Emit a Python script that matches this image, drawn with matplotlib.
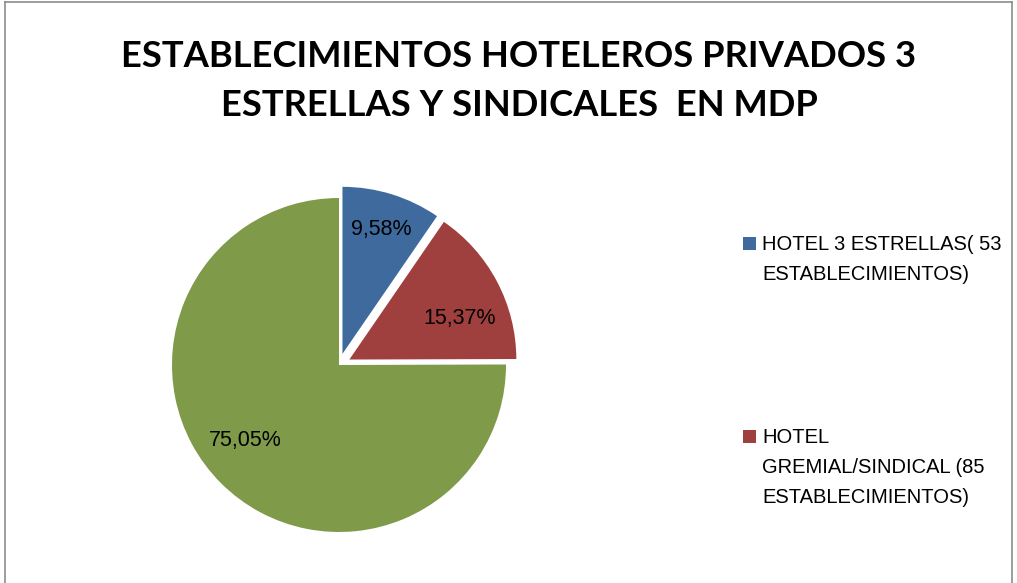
import matplotlib
matplotlib.use("Agg")
import matplotlib.pyplot as plt
from matplotlib.patches import Rectangle
from matplotlib.lines import Line2D

categories = ["HOTEL 3 ESTRELLAS( 53\nESTABLECIMIENTOS)",
              "HOTEL\nGREMIAL/SINDICAL (85\nESTABLECIMIENTOS)",
              "OTROS"]
values = [9.58, 15.37, 75.05]
pct_labels = ["9,58%", "15,37%", "75,05%"]
colors = ["#3F6A9D", "#A0403E", "#7F9B4A"]
explode = [0.07, 0.07, 0.0]
title = "ESTABLECIMIENTOS HOTELEROS PRIVADOS 3\nESTRELLAS Y SINDICALES  EN MDP"

FONT = ["Liberation Sans", "DejaVu Sans"]
TFONT = ["Lato", "Liberation Sans", "DejaVu Sans"]
W, H = 1017, 583
fig = plt.figure(figsize=(W / 100, H / 100), dpi=100)

R = 167.0
cx, cy = 339.0, H - 365.0
half = 1.25 * R
ax = fig.add_axes([(cx - half) / W, (cy - half) / H, 2 * half / W, 2 * half / H])
wedges, _ = ax.pie(values, colors=colors, explode=explode, startangle=90,
                   counterclock=False, radius=1.0, wedgeprops=dict(linewidth=0))
ax.set_xlim(-1.25, 1.25)
ax.set_ylim(-1.25, 1.25)
ax.set_aspect("equal")
ax.axis("off")

label_pos = [(0.25, 0.81), (0.72, 0.28), (-0.56, -0.45)]
for lab, (x, y) in zip(pct_labels, label_pos):
    ax.text(x, y, lab, ha="center", va="center", fontsize=15.5, family=FONT, color="black")

fig.text(519 / W, 1 - 81 / H, title, ha="center", va="center", fontsize=26.2,
         fontweight="bold", family=TFONT, linespacing=1.6)

# legend (only the visible entries)
leg_items = [(0, 237), (1, 430)]
for idx, ytop in leg_items:
    fig.add_artist(Rectangle((743 / W, 1 - (ytop + 13) / H), 13 / W, 13 / H,
                             transform=fig.transFigure, facecolor=colors[idx], edgecolor="none"))
    fig.text(762 / W, 1 - (ytop - 2) / H, categories[idx], ha="left", va="top",
             fontsize=14.5, family=FONT, linespacing=1.72)

# chart border
border = dict(color="#8C8C8C", linewidth=1.2, transform=fig.transFigure)
fig.add_artist(Line2D([5 / W, 5 / W], [0, 1 - 2 / H], **border))
fig.add_artist(Line2D([5 / W, 1012 / W], [1 - 2 / H, 1 - 2 / H], **border))
fig.add_artist(Line2D([1012 / W, 1012 / W], [0, 1 - 2 / H], **border))

fig.savefig("out.png", dpi=100, facecolor="white")
